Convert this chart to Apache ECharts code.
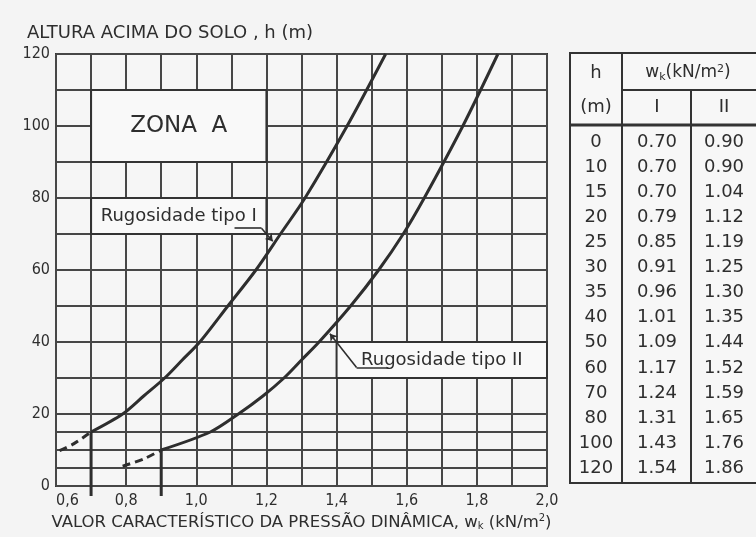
<!DOCTYPE html>
<html>
<head>
<meta charset="utf-8">
<script src="https://cdn.jsdelivr.net/npm/echarts@6/dist/echarts.min.js"></script>
<style>
  html, body { margin: 0; padding: 0; background: #f4f4f4; }
  #chart { width: 756px; height: 537px; }
</style>
</head>
<body>
<div id="chart"></div>
<script>
// Height above ground (m) and characteristic dynamic pressure w_k (kN/m²)
const heights  = [0, 10, 15, 20, 25, 30, 35, 40, 50, 60, 70, 80, 100, 120];
const wkTypeI  = [0.70, 0.70, 0.70, 0.79, 0.85, 0.91, 0.96, 1.01, 1.09, 1.17, 1.24, 1.31, 1.43, 1.54];
const wkTypeII = [0.90, 0.90, 1.04, 1.12, 1.19, 1.25, 1.30, 1.35, 1.44, 1.52, 1.59, 1.65, 1.76, 1.86];

// Dashed extrapolations below the base of each curve [w_k, h]
const dashedTypeI  = [[0.61, 9.8], [0.65, 11.7], [0.70, 15]];
const dashedTypeII = [[0.79, 5.5], [0.85, 7.5], [0.90, 10]];

// Axis tick labels
const xTickValues = [0.6, 0.8, 1.0, 1.2, 1.4, 1.6, 1.8, 2.0];
const xTickLabels = ['0,6', '0,8', '1,0', '1,2', '1,4', '1,6', '1,8', '2,0'];
const yTickValues = [0, 20, 40, 60, 80, 100, 120];
// Extra horizontal rulings in the lowest band
const extraRulings = [5, 15];

const FONT = '"DejaVu Sans", sans-serif';
const FONT_NARROW = '"DejaVu Sans Condensed", "DejaVu Sans", sans-serif';
const INK = '#2e2e2e';
const GRIDC = '#474747';

// Split a column of the table into the vertical base (constant w_k) and the curve above it
function splitCurve(w) {
  let k = 0;
  while (k + 1 < w.length && w[k + 1] === w[0]) k++;
  return {
    drop: [w[0], heights[k]],
    curve: heights.slice(k).map((h, i) => [w[k + i], h])
  };
}
const partI = splitCurve(wkTypeI);
const partII = splitCurve(wkTypeII);

const chart = echarts.init(document.getElementById('chart'), null, { renderer: 'canvas' });

// Table at the right, built from the same arrays
const T = { left: 570, top: 53, right: 770, bottom: 483, c1: 622, c2: 691, h1: 90, h2: 125 };
const colX = [596, 657, 724];
const rowY0 = 142, rowStep = 25.1;
const tblText = (x, y, text, size) => ({
  type: 'text', x: x, y: y,
  style: { text: text, fill: INK, font: (size || 18) + 'px ' + FONT, align: 'center', verticalAlign: 'middle' }
});
const tblLine = (x1, y1, x2, y2, w) => ({
  type: 'line', shape: { x1, y1, x2, y2 }, style: { stroke: '#333', lineWidth: w || 2 }
});
const table = [
  { type: 'rect', shape: { x: T.left, y: T.top, width: T.right - T.left, height: T.bottom - T.top },
    style: { fill: '#f7f7f7', stroke: '#333', lineWidth: 2 } },
  tblLine(T.c1, T.top, T.c1, T.bottom),
  tblLine(T.c2, T.h1, T.c2, T.bottom),
  tblLine(T.c1, T.h1, T.right, T.h1),
  tblLine(T.left, T.h2, T.right, T.h2, 3),
  tblText(colX[0], 73, 'h', 18),
  tblText(colX[0], 107, '(m)', 18),
  { type: 'text', x: 688, y: 73,
    style: { rich: {
      t: { fontSize: 17, fontFamily: FONT, fill: INK },
      s: { fontSize: 11, fontFamily: FONT, fill: INK, padding: [8, 0, 0, 0] },
      p: { fontSize: 11, fontFamily: FONT, fill: INK, padding: [0, 0, 8, 0] }
    }, text: '{t|w}{s|k}{t|(kN/m}{p|2}{t|)}', align: 'center', verticalAlign: 'middle' } },
  tblText(colX[1], 107, 'I', 18),
  tblText(colX[2], 107, 'II', 18)
];
heights.forEach((h, i) => {
  const y = rowY0 + i * rowStep;
  table.push(tblText(colX[0], y, String(h), 18));
  table.push(tblText(colX[1], y, wkTypeI[i].toFixed(2), 18));
  table.push(tblText(colX[2], y, wkTypeII[i].toFixed(2), 18));
});

const curveLine = { color: INK, width: 3 };
const dashLine = { color: INK, width: 3, type: [8, 5] };
const leader = { color: INK, width: 1.6, type: 'solid' };

const option = {
  backgroundColor: '#f4f4f4',
  animation: false,
  textStyle: { fontFamily: FONT },
  title: {
    text: 'ALTURA ACIMA DO SOLO , h (m)',
    left: 22, top: 19,
    textStyle: { fontSize: 18, fontWeight: 'normal', color: INK, fontFamily: FONT }
  },
  grid: {
    left: 56, top: 54, width: 491, height: 432,
    show: true, borderColor: '#333', borderWidth: 2, backgroundColor: '#f6f6f6'
  },
  xAxis: {
    type: 'value', min: 0.6, max: 2.0, interval: 0.1,
    axisLine: { show: false }, axisTick: { show: false },
    splitLine: { show: true, lineStyle: { color: GRIDC, width: 2 } },
    axisLabel: {
      margin: 7, fontSize: 16, color: INK, fontFamily: FONT_NARROW, alignMinLabel: 'left',
      formatter: v => {
        const i = xTickValues.findIndex(t => Math.abs(t - v) < 1e-6);
        return i >= 0 ? xTickLabels[i] : '';
      }
    },
    name: '{t|VALOR CARACTERÍSTICO DA PRESSÃO DINÂMICA, w}{s|k}{t| (kN/m}{p|2}{t|)}',
    nameLocation: 'middle', nameGap: 24,
    nameTextStyle: { rich: {
      t: { fontSize: 16.5, color: INK, fontFamily: FONT },
      s: { fontSize: 10, color: INK, fontFamily: FONT, padding: [8, 0, 0, 0] },
      p: { fontSize: 10, color: INK, fontFamily: FONT, padding: [0, 0, 8, 0] }
    } }
  },
  yAxis: {
    type: 'value', min: 0, max: 120, interval: 10,
    axisLine: { show: false }, axisTick: { show: false },
    splitLine: { show: true, lineStyle: { color: GRIDC, width: 2 } },
    axisLabel: {
      margin: 6, fontSize: 16, color: INK, fontFamily: FONT_NARROW,
      formatter: v => yTickValues.includes(v) ? String(v) : ''
    }
  },
  graphic: table,
  series: [
    {
      // label boxes and extra rulings
      type: 'line', data: [], silent: true, z: 3,
      markArea: {
        silent: true,
        itemStyle: { color: '#f9f9f9', borderColor: '#333', borderWidth: 2 },
        label: { position: 'inside', color: INK, fontFamily: FONT, fontSize: 18 },
        data: [
          [{ coord: [0.7, 110], name: 'ZONA  A', label: { fontSize: 23 } }, { coord: [1.2, 90] }],
          [{ coord: [0.7, 80], name: 'Rugosidade tipo I' }, { coord: [1.2, 70] }],
          [{ coord: [1.4, 40], name: 'Rugosidade tipo II' }, { coord: [2.0, 30] }]
        ]
      },
      markLine: {
        silent: true, symbol: 'none', label: { show: false },
        lineStyle: { color: GRIDC, width: 2, type: 'solid' },
        data: extraRulings.map(v => ({ yAxis: v }))
      }
    },
    {
      // leader lines from the labels to the curves
      type: 'line', data: [], silent: true, z: 6,
      markLine: {
        silent: true, symbol: 'none', label: { show: false }, lineStyle: leader,
        data: [
          [{ coord: [1.109, 71.6] }, { coord: [1.186, 71.6] }],
          [{ coord: [1.186, 71.6] }, { coord: [1.218, 68.0], symbol: 'arrow', symbolSize: 7 }],
          [{ coord: [1.548, 32.9] }, { coord: [1.457, 32.9] }],
          [{ coord: [1.457, 32.9] }, { coord: [1.381, 42.3], symbol: 'arrow', symbolSize: 7 }]
        ]
      }
    },
    {
      name: 'Rugosidade tipo I', type: 'line', data: partI.curve,
      smooth: 0.3, showSymbol: false, lineStyle: curveLine, z: 5, silent: true
    },
    {
      name: 'Rugosidade tipo II', type: 'line', data: partII.curve,
      smooth: 0.3, showSymbol: false, lineStyle: curveLine, z: 5, silent: true
    },
    { type: 'line', data: dashedTypeI, smooth: 0.3, showSymbol: false, lineStyle: dashLine, z: 5, silent: true },
    { type: 'line', data: dashedTypeII, smooth: 0.3, showSymbol: false, lineStyle: dashLine, z: 5, silent: true },
    {
      // vertical bases of the curves (constant w_k near the ground), run just below the axis
      type: 'custom', z: 5, silent: true,
      data: [partI.drop, partII.drop],
      renderItem: (params, api) => {
        const w = api.value(0), hTop = api.value(1);
        const p0 = api.coord([w, 0]);
        const p1 = api.coord([w, hTop]);
        return {
          type: 'line',
          shape: { x1: p0[0], y1: p0[1] + 10, x2: p1[0], y2: p1[1] },
          style: { stroke: INK, lineWidth: 3 }
        };
      }
    }
  ]
};
chart.setOption(option);
</script>
</body>
</html>
